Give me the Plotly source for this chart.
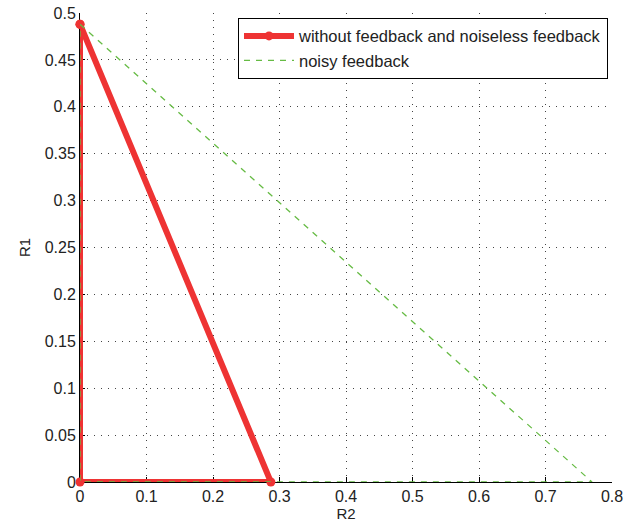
import plotly.graph_objects as go

# Region vertices (R2, R1)
r2_nofb = [0, 0.287, 0, 0]
r1_nofb = [0.488, 0, 0, 0.488]
r2_noisy = [0, 0.77, 0, 0]
r1_noisy = [0.488, 0, 0, 0.488]
x_ticks = [0, 0.1, 0.2, 0.3, 0.4, 0.5, 0.6, 0.7, 0.8]
y_ticks = [0, 0.05, 0.1, 0.15, 0.2, 0.25, 0.3, 0.35, 0.4, 0.45, 0.5]

red = "#ee3333"
green = "#66bb44"

fig = go.Figure()
fig.add_trace(go.Scatter(
    x=r2_nofb, y=r1_nofb, mode="lines+markers",
    name="without feedback and noiseless feedback",
    line=dict(color=red, width=6),
    marker=dict(color=red, size=9),
    cliponaxis=False,
))
fig.add_trace(go.Scatter(
    x=r2_noisy, y=r1_noisy, mode="lines",
    name="noisy feedback",
    line=dict(color=green, width=1.3, dash="6px,6px"),
    cliponaxis=False,
))

font = "Liberation Sans, Arial, Helvetica, sans-serif"
txt = "#222222"
axis_common = dict(
    showline=True, linecolor="black", linewidth=1,
    ticks="inside", ticklen=5, tickcolor="black",
    showgrid=True, gridcolor="#444444", griddash="1px,6px", gridwidth=1,
    zeroline=False, mirror=False, layer="below traces", automargin=False,
    tickfont=dict(family=font, size=16, color=txt),
)
fig.update_xaxes(
    range=[0, 0.8], tickvals=x_ticks, ticktext=[f"{v:g}" for v in x_ticks],
    title=dict(text="R2", font=dict(family=font, size=15, color=txt), standoff=0),
    **axis_common,
)
fig.update_yaxes(
    range=[0, 0.5], tickvals=y_ticks, ticktext=[f"{v:g}" for v in y_ticks],
    title=dict(text="R1", font=dict(family=font, size=15, color=txt), standoff=10),
    **axis_common,
)
fig.update_layout(
    width=626, height=529,
    margin=dict(l=80, r=14, t=13, b=47),
    plot_bgcolor="white", paper_bgcolor="white",
    font=dict(family=font, size=15, color=txt),
    legend=dict(
        x=0.297, y=0.99, xanchor="left", yanchor="top",
        bordercolor="black", borderwidth=1, bgcolor="white",
        font=dict(family=font, size=16.5, color=txt),
        tracegroupgap=0, itemwidth=50,
    ),
    showlegend=True,
)
fig.write_html("out.html")
